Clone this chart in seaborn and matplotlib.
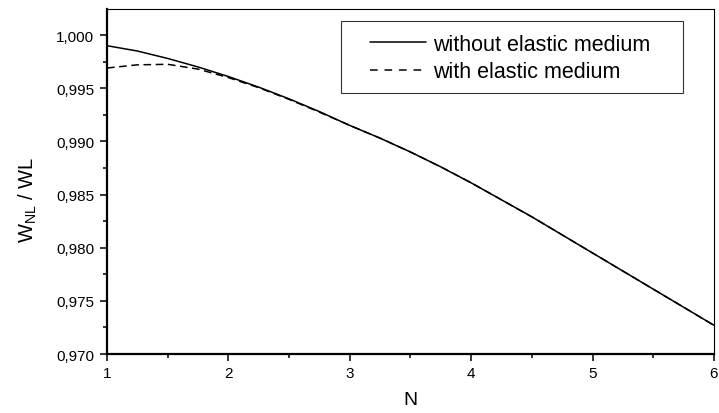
import numpy as np
import pandas as pd
import seaborn as sns
import matplotlib
matplotlib.use("Agg")
import matplotlib.pyplot as plt
from matplotlib.ticker import FixedLocator, FuncFormatter, MultipleLocator
from matplotlib.patches import Rectangle

# ---- data ----
N = [1.0, 1.25, 1.5, 1.75, 2.0, 2.25, 2.5, 2.75, 3.0, 3.25, 3.5, 3.75,
     4.0, 4.25, 4.5, 4.75, 5.0, 5.25, 5.5, 5.75, 6.0]
without_elastic = [0.9990, 0.9985, 0.9978, 0.9970, 0.9961, 0.9951, 0.9940, 0.9928,
                   0.9915, 0.9903, 0.9890, 0.9876, 0.9861, 0.9845, 0.9829, 0.9812,
                   0.9795, 0.9778, 0.9761, 0.9744, 0.9727]
with_elastic = [0.9969, 0.9972, 0.99725, 0.9968, 0.9960, 0.99505, 0.99395, 0.99275,
                0.9915, 0.9903, 0.9890, 0.9876, 0.9861, 0.9845, 0.9829, 0.9812,
                0.9795, 0.9778, 0.9761, 0.9744, 0.9727]
series_labels = ["without elastic medium", "with elastic medium"]
x_ticks = [1, 2, 3, 4, 5, 6]
y_ticks = [0.970, 0.975, 0.980, 0.985, 0.990, 0.995, 1.000]

sns.set_style("ticks")
plt.rcParams['font.family'] = ['Liberation Sans', 'DejaVu Sans']
plt.rcParams['mathtext.fontset'] = 'custom'
plt.rcParams['mathtext.rm'] = 'Liberation Sans'

fig = plt.figure(figsize=(7.19, 4.14), dpi=100)
ax = fig.add_axes([0.1488, 0.1425, 0.9930 - 0.1488, 0.9758 - 0.1425])

df = pd.DataFrame({"N": N, "a": without_elastic, "b": with_elastic})
sns.lineplot(data=df, x="N", y="a", ax=ax, color="black", linewidth=1.1,
             label=series_labels[0])
sns.lineplot(data=df, x="N", y="b", ax=ax, color="black", linewidth=1.1,
             dashes=False, label=series_labels[1])
ax.lines[1].set_dashes([5, 3])

ax.set_xlim(1, 6)
ax.set_ylim(0.970, 1.00245)
ax.xaxis.set_major_locator(FixedLocator(x_ticks))
ax.xaxis.set_minor_locator(MultipleLocator(0.5))
ax.yaxis.set_major_locator(FixedLocator(y_ticks))
ax.yaxis.set_minor_locator(MultipleLocator(0.0025))
ax.xaxis.set_major_formatter(FuncFormatter(lambda v, p: f"{v:g}"))
ax.yaxis.set_major_formatter(FuncFormatter(lambda v, p: f"{v:.3f}".replace('.', ',')))

ax.tick_params(axis='both', which='major', direction='out', length=5, width=1.1,
               labelsize=11, color='black', labelcolor='black', pad=3)
ax.tick_params(axis='both', which='minor', direction='out', length=3, width=1.1,
               color='black')
ax.tick_params(axis='y', which='major', pad=4)
ax.tick_params(axis='x', which='major', pad=3.5)

for s in ['left', 'bottom']:
    ax.spines[s].set_linewidth(1.6)
    ax.spines[s].set_color('black')
for s in ['top', 'right']:
    ax.spines[s].set_visible(True)
    ax.spines[s].set_linewidth(0.8)
    ax.spines[s].set_color('black')

ax.set_xlabel("N", fontsize=14, color='black', labelpad=8)
ax.set_ylabel(r"$\mathregular{W_{NL}}$ / WL", fontsize=14.5, color='black', labelpad=12)
ax.yaxis.set_label_coords(-0.112, 0.45)

leg = ax.legend(loc='upper left', bbox_to_anchor=(0.433, 0.928), frameon=False,
                fontsize=15.5, handlelength=2.6, handletextpad=0.33,
                labelspacing=0.3, borderpad=0, borderaxespad=0)
for t in leg.get_texts():
    t.set_color('black')
leg.get_lines()[1].set_dashes([5, 4.5])

ax.add_patch(Rectangle((0.3855, 0.7565), 0.5634, 0.2087, transform=ax.transAxes,
                       fill=False, edgecolor='#333333', linewidth=0.8, zorder=5))

fig.savefig("out.png", dpi=100)
